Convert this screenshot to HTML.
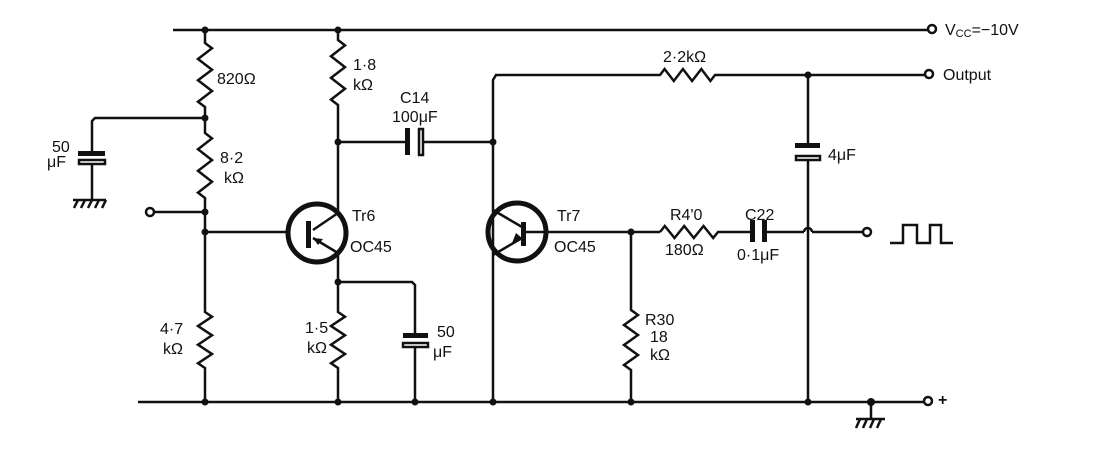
<!DOCTYPE html>
<html><head><meta charset="utf-8"><style>
html,body{margin:0;padding:0;background:#fff;}
svg{display:block;}
text{font-family:"Liberation Sans",sans-serif;font-size:16px;fill:#111;}
</style></head><body>
<svg width="1113" height="449" viewBox="0 0 1113 449" xmlns="http://www.w3.org/2000/svg">
<g stroke="#111" stroke-width="2.5" fill="none" stroke-linejoin="miter">
<line x1="173" y1="30" x2="928" y2="30"/>
<line x1="138" y1="402" x2="924" y2="402"/>
<polyline points="205,30 205,43 212,48.3 198,59 212,69.7 198,80.3 212,91 198,101.7 205,107 205,133 212,138.4 198,149.3 212,160.1 198,170.9 212,181.8 198,192.6 205,198 205,312 212,316.7 198,326 212,335.3 198,344.7 212,354 198,363.3 205,368 205,402"/>
<polyline points="205,118 95,118 92,121 92,153"/>
<line x1="92" y1="162" x2="92" y2="200"/>
<line x1="150" y1="212" x2="205" y2="212"/>
<line x1="205" y1="232" x2="290" y2="232"/>
<line x1="73" y1="200" x2="106" y2="200"/>
<line x1="78" y1="200" x2="74" y2="208"/><line x1="85" y1="200" x2="81" y2="208"/><line x1="92" y1="200" x2="88" y2="208"/><line x1="99" y1="200" x2="95" y2="208"/><line x1="106" y1="200" x2="102" y2="208"/>
<polyline points="338,30 338,40 345,45.4 331,56.3 345,67.1 331,77.9 345,88.8 331,99.6 338,105 338,213"/>
<polyline points="338,253 338,312 345,316.7 331,326 345,335.3 331,344.7 345,354 331,363.3 338,368 338,402"/>
<polyline points="338,282 412,282 415,285 415,335"/>
<line x1="415" y1="347" x2="415" y2="402"/>
<line x1="338" y1="142" x2="405" y2="142"/>
<line x1="424" y1="142" x2="493" y2="142"/>
<line x1="313" y1="230" x2="338" y2="213"/>
<line x1="313" y1="238" x2="338" y2="253"/>
<polyline points="493,402 493,80 496,75 660,75 664.6,69 673.8,81 682.9,69 692.1,81 701.3,69 710.4,81 715,75 925,75"/>
<line x1="522" y1="227" x2="493" y2="210"/>
<line x1="522" y1="238" x2="493" y2="255"/>
<line x1="523" y1="232" x2="660" y2="232"/>
<polyline points="660,232 664.8,226 674.5,238 684.2,226 693.8,238 703.5,226 713.2,238 718,232 751,232"/>
<line x1="767" y1="232" x2="804" y2="232"/>
<path d="M804,232 A4,4 0 0 1 812,232"/>
<line x1="812" y1="232" x2="863" y2="232"/>
<line x1="808" y1="75" x2="808" y2="144"/>
<line x1="808" y1="160" x2="808" y2="402"/>
<polyline points="631,232 631,310 638,315 624,325 638,335 624,345 638,355 624,365 631,370 631,402"/>
<polyline points="890,243 903,243 903,225 917,225 917,243 930,243 930,225 941,225 941,243 953,243"/>
<line x1="871" y1="402" x2="871" y2="419"/>
<line x1="856" y1="419" x2="885" y2="419"/>
<line x1="860" y1="419" x2="856" y2="428"/><line x1="867" y1="419" x2="863" y2="428"/><line x1="874" y1="419" x2="870" y2="428"/><line x1="881" y1="419" x2="877" y2="428"/>
<circle cx="317" cy="233" r="29" stroke-width="5"/>
<circle cx="517" cy="232" r="29" stroke-width="5"/>
<circle cx="150" cy="212" r="4" fill="#fff"/>
<circle cx="932" cy="29" r="4" fill="#fff"/>
<circle cx="929" cy="74" r="4" fill="#fff"/>
<circle cx="867" cy="232" r="4" fill="#fff"/>
<circle cx="928" cy="401" r="4" fill="#fff"/>
<rect x="79" y="160" width="26" height="4" fill="#fff"/>
<rect x="403" y="343" width="25" height="4" fill="#fff"/>
<rect x="419" y="129" width="4" height="26" fill="#fff"/>
<rect x="796" y="156" width="24" height="4" fill="#fff"/>
</g>
<g fill="#111">
<rect x="78" y="151" width="27" height="5"/>
<rect x="403" y="333" width="25" height="5"/>
<rect x="405" y="128" width="5" height="27"/>
<rect x="795" y="143" width="25" height="5"/>
<rect x="750" y="220" width="5" height="22"/>
<rect x="762" y="220" width="5" height="22"/>
<rect x="306" y="221" width="5" height="27"/>
<rect x="521" y="222" width="5" height="24"/>
<polygon points="313,238 323,239 318,245"/>
<polygon points="512,243 522,238 516,233"/>
<circle cx="205" cy="30" r="3.5"/><circle cx="205" cy="118" r="3.5"/><circle cx="205" cy="212" r="3.5"/><circle cx="205" cy="232" r="3.5"/><circle cx="205" cy="402" r="3.5"/>
<circle cx="338" cy="30" r="3.5"/><circle cx="338" cy="142" r="3.5"/><circle cx="338" cy="282" r="3.5"/><circle cx="338" cy="402" r="3.5"/>
<circle cx="415" cy="402" r="3.5"/><circle cx="493" cy="142" r="3.5"/><circle cx="493" cy="402" r="3.5"/>
<circle cx="631" cy="232" r="3.5"/><circle cx="631" cy="402" r="3.5"/>
<circle cx="808" cy="75" r="3.5"/><circle cx="808" cy="402" r="3.5"/><circle cx="871" cy="402" r="4"/>
</g>
<text x="217" y="84">820Ω</text>
<text x="220" y="163">8·2</text><text x="224" y="183">kΩ</text>
<text x="52" y="152">50</text><text x="47" y="167">μF</text>
<text x="160" y="334">4·7</text><text x="163" y="354">kΩ</text>
<text x="353" y="70">1·8</text><text x="353" y="90">kΩ</text>
<text x="400" y="103">C14</text><text x="392" y="122">100μF</text>
<text x="352" y="221">Tr6</text><text x="350" y="252">OC45</text>
<text x="305" y="333">1·5</text><text x="307" y="353">kΩ</text>
<text x="437" y="337">50</text><text x="433" y="357">μF</text>
<text x="663" y="62">2·2kΩ</text>
<text x="828" y="160">4μF</text>
<text x="557" y="221">Tr7</text><text x="554" y="252">OC45</text>
<text x="670" y="220">R4'0</text><text x="665" y="255">180Ω</text>
<text x="745" y="220">C22</text><text x="737" y="260">0·1μF</text>
<text x="645" y="325">R30</text><text x="650" y="342">18</text><text x="650" y="360">kΩ</text>
<text x="945" y="35">V<tspan font-size="11" dy="2">CC</tspan><tspan dy="-2">=−10V</tspan></text>
<text x="943" y="80">Output</text>
<text x="938" y="405" font-size="17" font-weight="bold">+</text>
</svg>
</body></html>
